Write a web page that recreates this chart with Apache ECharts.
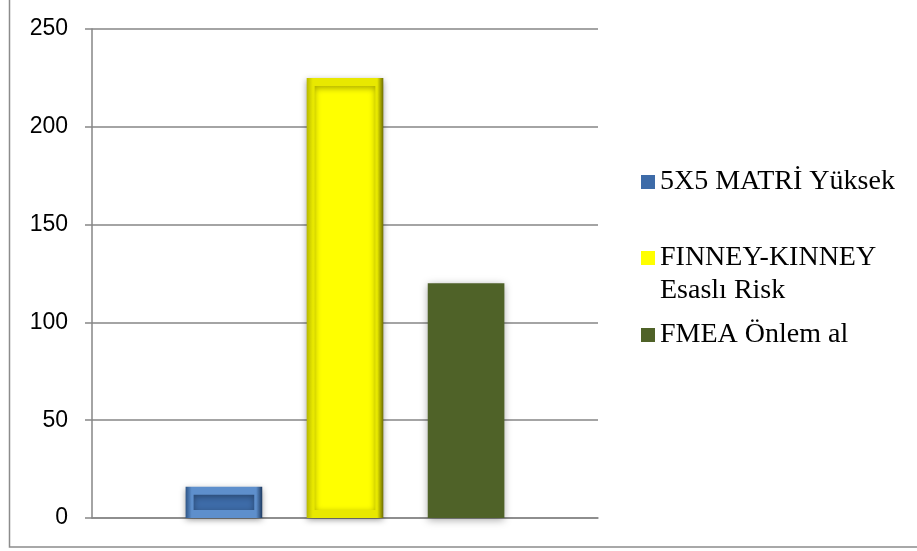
<!DOCTYPE html>
<html><head><meta charset="utf-8">
<script src="https://cdn.jsdelivr.net/npm/echarts@6/dist/echarts.min.js"></script>
<style>html,body{margin:0;padding:0;background:#fff}#c{width:917px;height:551px}</style>
</head><body><div id="c"></div>
<script>
const categories = [''];
const seriesNames = ['5X5 MATRİ Yüksek', 'FINNEY-KINNEY Esaslı Risk', 'FMEA Önlem al'];
const matrixValues = [16];
const finneyValues = [225];
const fmeaValues = [120];
const yTicks = [0, 50, 100, 150, 200, 250];

const chart = echarts.init(document.getElementById('c'));
function edge(left, mid, right) {
  return new echarts.graphic.LinearGradient(0, 0, 1, 0, [
    {offset: 0, color: left}, {offset: 0.08, color: mid}, {offset: 0.92, color: mid}, {offset: 1, color: right}
  ]);
}
const legendText = {fontFamily: 'Liberation Serif', fontSize: 28, color: '#000', lineHeight: 33};
function mkLegend(name, top, extra) {
  return Object.assign({
    data: [name], left: 636, top: top, orient: 'vertical', itemWidth: 14, itemHeight: 14, itemGap: 0,
    icon: 'rect', textStyle: Object.assign({}, legendText), selectedMode: false,
    itemStyle: {borderWidth: 0, shadowBlur: 0}
  }, extra || {});
}
chart.setOption({
  animation: false,
  backgroundColor: '#fff',
  graphic: [{type: 'rect', shape: {x: 9.5, y: -2, width: 920, height: 549}, style: {fill: 'none', stroke: '#8c8c8c', lineWidth: 1.5}, silent: true}],
  grid: {left: 92, right: 319, top: 29, bottom: 33},
  legend: [
    mkLegend(seriesNames[0], 160.5),
    mkLegend(seriesNames[1], 203.5, {formatter: function () { return ' \nFINNEY-KINNEY\nEsaslı Risk'; }}),
    mkLegend(seriesNames[2], 313.5)
  ],
  xAxis: {type: 'category', data: categories, axisLine: {lineStyle: {color: '#868686', width: 1.5}}, axisTick: {show: false}, axisLabel: {show: false}},
  yAxis: {type: 'value', min: yTicks[0], max: yTicks[yTicks.length - 1], interval: 50,
    axisLine: {show: true, lineStyle: {color: '#868686', width: 1.5}},
    axisTick: {show: true, length: 7, lineStyle: {color: '#868686', width: 1.5}},
    splitLine: {lineStyle: {color: '#868686', width: 1.5}},
    axisLabel: {fontFamily: 'Liberation Sans', fontSize: 23, color: '#000', margin: 24}},
  series: [
    {name: seriesNames[0], type: 'bar', data: matrixValues, barGap: '58%', barCategoryGap: '37%',
      itemStyle: {color: '#3D6BA8', borderWidth: 8, borderColor: edge('#2E5586', '#5E8FCC', '#1E3A60'), shadowBlur: 6, shadowColor: 'rgba(0,0,0,0.35)', shadowOffsetY: 2}},
    {name: seriesNames[1], type: 'bar', data: finneyValues,
      itemStyle: {color: '#FFFF00', borderWidth: 8, borderColor: edge('#B8B800', '#E8E800', '#6E6E00'), shadowBlur: 6, shadowColor: 'rgba(0,0,0,0.35)', shadowOffsetY: 2}},
    {name: seriesNames[2], type: 'bar', data: fmeaValues,
      itemStyle: {color: '#4F6228', shadowBlur: 8, shadowColor: 'rgba(0,0,0,0.35)', shadowOffsetY: 2}}
  ]
});
</script></body></html>
